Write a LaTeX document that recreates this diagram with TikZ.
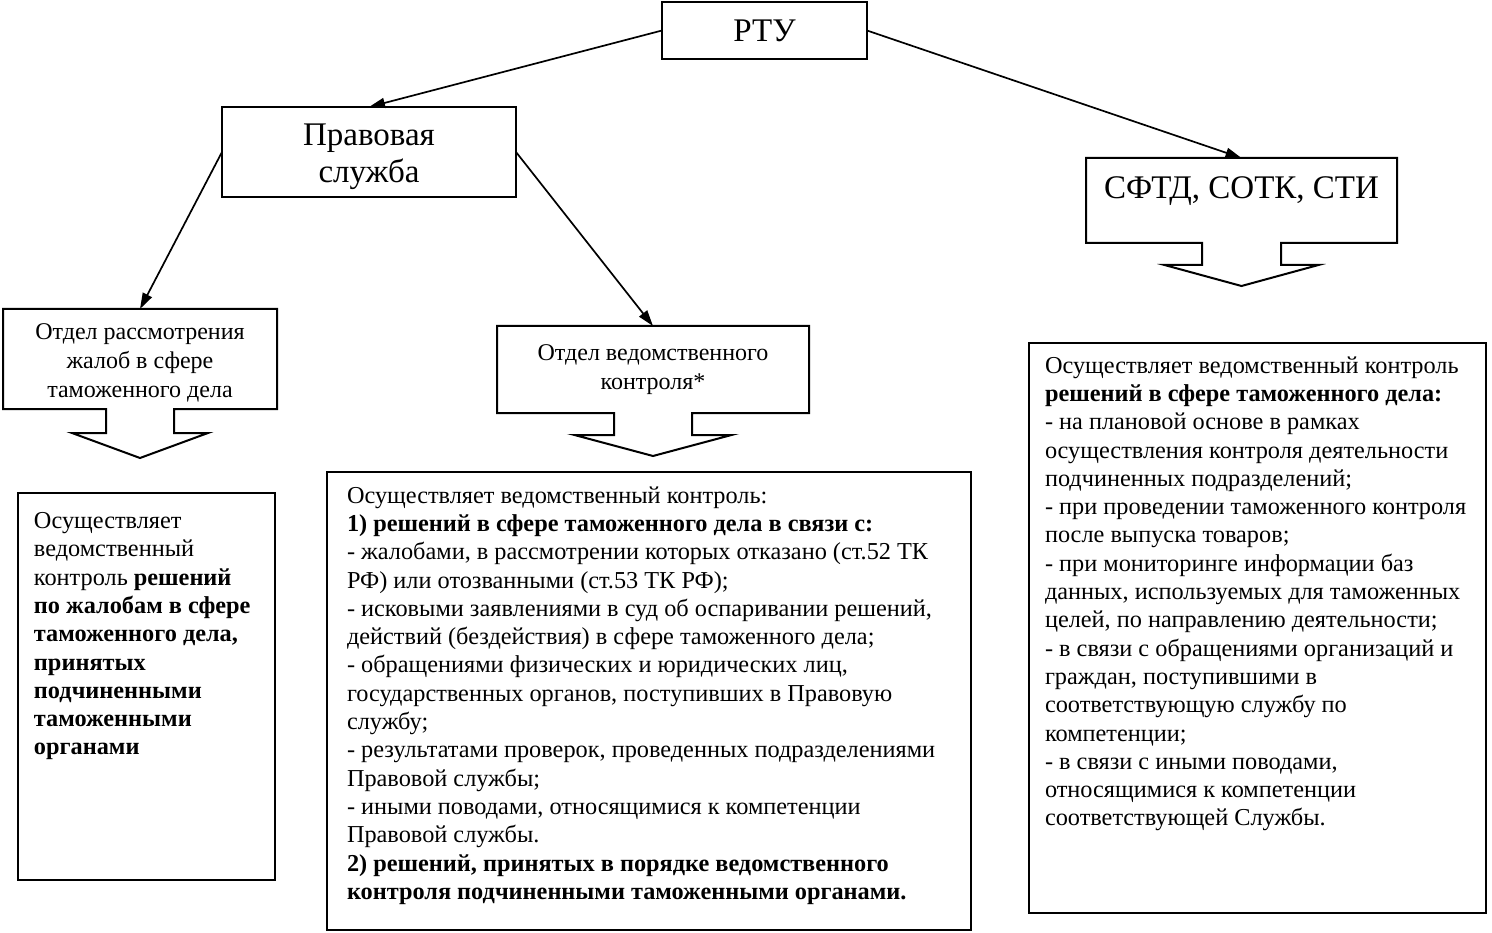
\documentclass[tikz,border=0pt]{standalone}
\usepackage{fontspec}
\setmainfont{Liberation Serif}
\usetikzlibrary{arrows.meta,calc}
\newcommand{\drawboxarrow}[5]{%
  \draw[outline] (#1.south west) -- (#1.north west) -- (#1.north east) -- (#1.south east)
    -- ($(#1.south)+(#2,0)$) -- ($(#1.south)+(#2,#4)$) -- ($(#1.south)+(#3,#4)$)
    -- ($(#1.south)+(0,#4+#5)$) -- ($(#1.south)+(-#3,#4)$) -- ($(#1.south)+(-#2,#4)$)
    -- ($(#1.south)+(-#2,0)$) -- cycle;}
\begin{document}
\begin{tikzpicture}[x=1pt,y=-1pt,
  box/.style={draw, line width=2.2pt, inner sep=0pt, outer sep=0pt},
  hollow/.style={inner sep=0pt, outer sep=0pt},
  outline/.style={line width=2pt, line join=miter},
  conn/.style={line width=1.7pt, -{Triangle[length=16pt,width=10pt]}},
  big/.style={font=\fontsize{33}{37}\selectfont},
  mid/.style={font=\fontsize{24}{29}\selectfont},
  body/.style={anchor=north west, inner sep=0pt, outer sep=0pt, align=left,
    font=\fontsize{24.3}{28.3}\selectfont}
]
\useasboundingbox (0,0) rectangle (1492,933);

% top boxes
\node[box, big, minimum width=205pt, minimum height=57pt] (rtu) at (764.5,30.5) {РТУ};
\node[box, minimum width=294pt, minimum height=90pt] (pravo) at (369,152) {};
\node[big, align=center, inner sep=0pt] (pravot) at ($(pravo.center)+(0,5)$) {Правовая\\служба};

% boxes with block arrows
\node[hollow, big, minimum width=311pt, minimum height=85pt, text depth=26pt] (sftd) at (1241.5,200.5) {СФТД, СОТК, СТИ};
\drawboxarrow{sftd}{39.5}{77}{22}{21}

\node[hollow, minimum width=274pt, minimum height=100pt] (o1) at (140,359) {};
\node[mid, align=center, inner sep=0pt] (o1t) at ($(o1.center)+(0,4)$) {Отдел рассмотрения\\жалоб в сфере\\таможенного дела};
\drawboxarrow{o1}{34}{68}{24}{25}

\node[hollow, mid, minimum width=312pt, minimum height=87pt, align=center] (o2) at (653,369.5) {Отдел ведомственного\\контроля*};
\drawboxarrow{o2}{39}{78.5}{22}{21}

% connectors
\draw[conn] (rtu.west) -- (pravo.north);
\draw[conn] (rtu.east) -- (sftd.north);
\draw[conn] (pravo.west) -- (o1.north);
\draw[conn] (pravo.east) -- (o2.north);

% content boxes
\node[box, minimum width=257pt, minimum height=387pt] (c1) at (146.5,686.5) {};
\node[box, minimum width=644pt, minimum height=458pt] (c2) at (649,701) {};
\node[box, minimum width=457pt, minimum height=570pt] (c3) at (1257.5,628) {};

\node[body] (t1) at ($(c1.north west)+(16,19.5)$) {Осуществляет\\ведомственный\\контроль \textbf{решений}\\\textbf{по жалобам в сфере}\\\textbf{таможенного дела,}\\\textbf{принятых}\\\textbf{подчиненными}\\\textbf{таможенными}\\\textbf{органами}};

\node[body] (t2) at ($(c2.north west)+(20,14.5)$) {Осуществляет ведомственный контроль:\\
\textbf{1) решений в сфере таможенного дела в связи с:}\\
- жалобами, в рассмотрении которых отказано (ст.52 ТК\\
РФ) или отозванными (ст.53 ТК РФ);\\
- исковыми заявлениями в суд об оспаривании решений,\\
действий (бездействия) в сфере таможенного дела;\\
- обращениями физических и юридических лиц,\\
государственных органов, поступивших в Правовую\\
службу;\\
- результатами проверок, проведенных подразделениями\\
Правовой службы;\\
- иными поводами, относящимися к компетенции\\
Правовой службы.\\
\textbf{2) решений, принятых в порядке ведомственного}\\
\textbf{контроля подчиненными таможенными органами.}};

\node[body] (t3) at ($(c3.north west)+(16,13.5)$) {Осуществляет ведомственный контроль\\
\textbf{решений в сфере таможенного дела:}\\
- на плановой основе в рамках\\
осуществления контроля деятельности\\
подчиненных подразделений;\\
- при проведении таможенного контроля\\
после выпуска товаров;\\
- при мониторинге информации баз\\
данных, используемых для таможенных\\
целей, по направлению деятельности;\\
- в связи с обращениями организаций и\\
граждан, поступившими в\\
соответствующую службу по\\
компетенции;\\
- в связи с иными поводами,\\
относящимися к компетенции\\
соответствующей Службы.};
\end{tikzpicture}
\end{document}
